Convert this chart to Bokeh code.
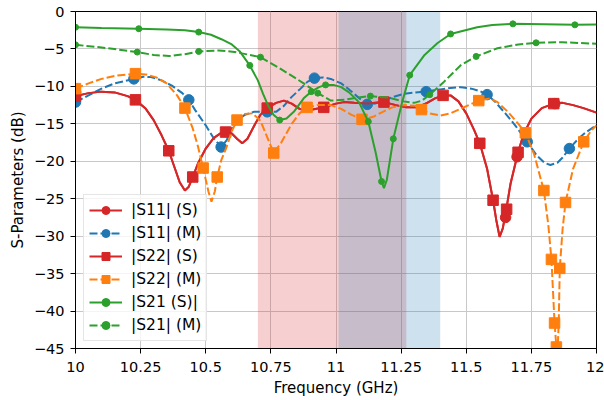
from bokeh.plotting import figure
from bokeh.models import (Range1d, FixedTicker, CustomJSTickFormatter, BoxAnnotation,
                          Legend, LegendItem)
from bokeh.embed import file_html
from bokeh.resources import INLINE

# ---------------- data ----------------
# Shaded bands (GHz)
band_red = (10.70, 11.27)
band_blue = (11.01, 11.40)

# |S11| (S) and |S22| (S): the two simulated reflection traces coincide
f_sim_refl = [10.00, 10.05, 10.10, 10.15, 10.20, 10.23, 10.27, 10.30, 10.33, 10.358, 10.38, 10.40,
              10.42, 10.435, 10.45, 10.47, 10.50, 10.53, 10.555, 10.58, 10.60, 10.62, 10.64, 10.66,
              10.69, 10.71, 10.736, 10.77, 10.80, 10.83, 10.86, 10.88, 10.91, 10.953, 11.00, 11.03,
              11.07, 11.12, 11.184, 11.23, 11.27, 11.31, 11.35, 11.38, 11.411, 11.44, 11.47, 11.50,
              11.53, 11.552, 11.58, 11.603, 11.615, 11.628, 11.64, 11.651, 11.67, 11.699, 11.72,
              11.75, 11.79, 11.836, 11.87, 11.91, 11.95, 12.00]
s_sim_refl = [-11.3, -10.9, -10.7, -10.8, -11.3, -11.8, -13.0, -14.5, -16.5, -18.6, -20.8, -22.8,
              -23.9, -23.4, -22.1, -20.3, -18.3, -16.9, -16.3, -16.1, -16.3, -17.0, -17.6, -17.0,
              -15.0, -13.8, -12.9, -12.2, -11.9, -12.3, -13.0, -13.2, -13.1, -12.8, -12.3, -12.1,
              -12.2, -12.3, -12.1, -12.5, -12.8, -12.8, -12.2, -11.6, -11.2, -11.2, -12.0, -13.6,
              -15.8, -17.6, -21.0, -25.2, -27.8, -30.1, -29.0, -27.0, -23.0, -18.8, -16.4,
              -14.3, -12.9, -12.3, -12.2, -12.5, -12.9, -13.5]
s11_sim_mk_f = [10.00, 11.651, 11.695, 11.84]
s11_sim_mk_v = [-11.3, -27.5, -19.4, -12.3]
s22_sim_mk_f = [10.00, 10.23, 10.358, 10.45, 10.576, 10.736, 10.953, 11.184, 11.411, 11.552,
                11.603, 11.655, 11.699, 11.836]
s22_sim_mk_v = [-11.3, -11.8, -18.6, -22.1, -16.1, -12.9, -12.8, -12.1, -11.2, -17.6,
                -25.2, -26.4, -18.8, -12.3]

# |S11| (M)
f_s11_meas = [10.00, 10.05, 10.10, 10.15, 10.224, 10.26, 10.29, 10.33, 10.37, 10.41, 10.435, 10.46,
              10.50, 10.53, 10.559, 10.58, 10.60, 10.62, 10.65, 10.684, 10.736, 10.77, 10.80, 10.83,
              10.864, 10.89, 10.917, 10.95, 10.98, 11.02, 11.05, 11.09, 11.12, 11.15, 11.19, 11.22,
              11.26, 11.305, 11.346, 11.40, 11.44, 11.48, 11.52, 11.55, 11.58, 11.612, 11.65, 11.69,
              11.734, 11.77, 11.80, 11.823, 11.85, 11.87, 11.896, 11.93, 11.96, 12.00]
s11_meas = [-12.1, -11.2, -10.3, -9.6, -9.0, -8.7, -8.76, -9.2, -9.9, -10.9, -11.8, -13.2,
            -15.2, -16.9, -18.1, -17.2, -15.6, -14.5, -13.8, -13.4, -13.4, -13.4, -12.6, -11.4,
            -10.3, -9.4, -8.9, -8.8, -9.0, -9.6, -10.4, -11.6, -12.4, -12.3, -11.8, -11.4,
            -11.0, -10.8, -10.7, -10.4, -10.2, -10.1, -10.3, -10.6, -11.1, -12.1, -13.6, -15.3,
            -17.4, -19.2, -20.2, -20.5, -20.2, -19.5, -18.3, -17.0, -16.1, -15.2]
s11_meas_mk_f = [10.00, 10.224, 10.435, 10.559, 10.736, 10.917, 11.12, 11.346, 11.58, 11.734, 11.896]
s11_meas_mk_v = [-12.1, -9.0, -11.8, -18.1, -13.4, -8.9, -12.4, -10.7, -11.1, -17.4, -18.3]

# |S22| (M)
f_s22_meas = [10.00, 10.05, 10.10, 10.15, 10.23, 10.27, 10.31, 10.35, 10.39, 10.42, 10.45, 10.47,
              10.49, 10.51, 10.522, 10.535, 10.544, 10.56, 10.582, 10.60, 10.62, 10.65, 10.68, 10.71,
              10.735, 10.761, 10.79, 10.83, 10.86, 10.889, 10.93, 10.98, 11.02, 11.06, 11.10, 11.14,
              11.18, 11.216, 11.26, 11.305, 11.328, 11.36, 11.40, 11.44, 11.49, 11.548, 11.59, 11.62,
              11.66, 11.70, 11.727, 11.76, 11.798, 11.815, 11.827, 11.839, 11.846, 11.850, 11.855,
              11.859, 11.87, 11.881, 11.91, 11.951, 11.98, 12.00]
s22_meas = [-10.3, -9.6, -9.0, -8.6, -8.3, -8.4, -8.8, -9.6, -11.2, -12.9, -15.6, -18.0,
            -20.9, -24.0, -25.4, -24.0, -22.1, -19.8, -17.9, -16.0, -14.5, -13.7, -13.6, -14.6,
            -16.7, -18.9, -17.5, -15.0, -13.6, -12.8, -12.5, -12.5, -13.0, -13.8, -14.4, -14.1,
            -13.4, -12.8, -12.5, -12.6, -13.1, -13.6, -13.9, -13.6, -12.8, -11.9, -11.6, -12.1,
            -13.4, -15.0, -16.2, -19.0, -23.9, -28.5, -33.1, -41.6, -44.8, -46.0, -41.5,
            -34.3, -29.0, -25.5, -21.0, -17.4, -15.9, -15.2]
s22_meas_mk_f = [10.00, 10.23, 10.42, 10.49, 10.544, 10.62, 10.761, 10.889, 11.10, 11.328, 11.548,
                 11.727, 11.798, 11.827, 11.839, 11.846, 11.859, 11.881, 11.951]
s22_meas_mk_v = [-10.3, -8.3, -12.9, -20.9, -22.1, -14.5, -18.9, -12.8, -14.4, -13.1, -11.9,
                 -16.2, -23.9, -33.1, -41.6, -44.8, -34.3, -25.5, -17.4]

# |S21| (S)
f_s21_sim = [10.00, 10.10, 10.243, 10.35, 10.42, 10.473, 10.52, 10.56, 10.60, 10.63, 10.669, 10.70,
             10.72, 10.74, 10.76, 10.784, 10.81, 10.838, 10.876, 10.905, 10.935, 10.96, 10.99, 11.02,
             11.05, 11.088, 11.124, 11.152, 11.175, 11.184, 11.195, 11.22, 11.254, 11.283, 11.34,
             11.39, 11.44, 11.542, 11.60, 11.679, 11.80, 11.917, 12.00]
s21_sim = [-2.1, -2.2, -2.3, -2.4, -2.5, -2.75, -3.1, -3.7, -4.4, -5.3, -7.2, -9.2,
           -11.0, -12.6, -13.8, -14.5, -14.3, -13.4, -11.6, -10.7, -10.1, -9.8, -9.8, -10.1,
           -10.8, -12.1, -14.7, -18.8, -22.7, -23.6, -22.5, -17.0, -12.1, -8.5, -5.8,
           -4.2, -3.0, -2.1, -1.8, -1.65, -1.7, -1.78, -1.73]
s21_sim_mk_f = [10.00, 10.243, 10.473, 10.669, 10.784, 10.905, 10.96, 11.124, 11.175, 11.22,
                11.283, 11.44, 11.679, 11.917]
s21_sim_mk_v = [-2.1, -2.3, -2.75, -7.2, -14.5, -10.7, -9.8, -14.7, -22.7, -17.0,
                -8.5, -3.0, -1.65, -1.78]

# |S21| (M)
f_s21_meas = [10.00, 10.10, 10.237, 10.30, 10.36, 10.42, 10.473, 10.55, 10.61, 10.67, 10.71, 10.78,
              10.84, 10.876, 10.93, 10.98, 11.03, 11.08, 11.132, 11.20, 11.26, 11.30, 11.33, 11.36,
              11.414, 11.478, 11.538, 11.62, 11.70, 11.768, 11.868, 12.00]
s21_meas = [-4.45, -4.8, -5.42, -5.8, -5.95, -5.7, -5.33, -5.2, -5.4, -5.8, -6.1, -7.5,
            -8.8, -9.6, -10.9, -11.9, -11.8, -11.5, -11.3, -11.5, -12.0, -12.2, -11.9, -11.1,
            -9.4, -7.2, -6.0, -4.9, -4.4, -4.18, -4.1, -4.3]
s21_meas_mk_f = [10.00, 10.237, 10.473, 10.71, 10.93, 11.132, 11.36, 11.538, 11.768]
s21_meas_mk_v = [-4.45, -5.42, -5.33, -6.1, -10.9, -11.3, -11.1, -6.0, -4.18]

x_ticks = [10.0, 10.25, 10.5, 10.75, 11.0, 11.25, 11.5, 11.75, 12.0]
x_tick_labels = ["10", "10.25", "10.5", "10.75", "11", "11.25", "11.5", "11.75", "12"]
y_ticks = [0, -5, -10, -15, -20, -25, -30, -35, -40, -45]
y_tick_labels = ["0", "\u22125", "\u221210", "\u221215", "\u221220", "\u221225", "\u221230",
                 "\u221235", "\u221240", "\u221245"]

# ---------------- styling ----------------
RED, BLUE, ORANGE, GREEN = "#d62728", "#1f77b4", "#ff7f0e", "#2ca02c"
FONT = "DejaVu Sans"
LW = 2
DASH = "8 3"

p = figure(width=604, height=400, output_backend="svg", toolbar_location=None,
           x_range=Range1d(10, 12), y_range=Range1d(-45, 0),
           min_border_left=75, min_border_right=8, min_border_top=11, min_border_bottom=52)
p.background_fill_color = "white"
p.border_fill_color = "white"
p.outline_line_color = "black"
p.outline_line_width = 1
p.outline_line_alpha = 1

fmt_code = "const i = tv.findIndex(t => Math.abs(t - tick) < 1e-9); return i >= 0 ? tl[i] : '';"
p.xaxis.ticker = FixedTicker(ticks=x_ticks)
p.yaxis.ticker = FixedTicker(ticks=y_ticks)
p.xaxis.formatter = CustomJSTickFormatter(args=dict(tv=x_ticks, tl=x_tick_labels), code=fmt_code)
p.yaxis.formatter = CustomJSTickFormatter(args=dict(tv=y_ticks, tl=y_tick_labels), code=fmt_code)

for ax in (p.xaxis, p.yaxis):
    ax.axis_line_color = "black"
    ax.axis_line_width = 1
    ax.major_tick_line_color = "black"
    ax.major_tick_in = 0
    ax.major_tick_out = 5
    ax.minor_tick_line_color = None
    ax.major_label_text_font = FONT
    ax.major_label_text_font_size = "14.5px"
    ax.major_label_text_color = "black"
    ax.axis_label_text_font = FONT
    ax.axis_label_text_font_size = "15px"
    ax.axis_label_text_font_style = "normal"
    ax.axis_label_text_color = "black"

p.xaxis.axis_label = "Frequency (GHz)"
p.yaxis.axis_label = "S-Parameters (dB)"
p.xaxis.major_label_standoff = 8
p.xaxis.axis_label_standoff = 4
p.yaxis.major_label_standoff = 6
p.yaxis.axis_label_standoff = 4

p.grid.grid_line_color = "#c8c8c8"
p.grid.grid_line_width = 1

p.add_layout(BoxAnnotation(left=band_red[0], right=band_red[1], fill_color=RED, fill_alpha=0.22,
                           line_color=None, level="underlay"))
p.add_layout(BoxAnnotation(left=band_blue[0], right=band_blue[1], fill_color=BLUE, fill_alpha=0.22,
                           line_color=None, level="underlay"))

# |S11| (S)
l1 = p.line(f_sim_refl, s_sim_refl, line_color=RED, line_width=LW)
m1 = p.scatter(s11_sim_mk_f, s11_sim_mk_v, marker="circle", size=10.5, fill_color=RED, line_color=RED)
# |S11| (M)
l2 = p.line(f_s11_meas, s11_meas, line_color=BLUE, line_width=LW, line_dash=DASH)
m2 = p.scatter(s11_meas_mk_f, s11_meas_mk_v, marker="circle", size=10.5, fill_color=BLUE, line_color=BLUE)
# |S22| (S)
l3 = p.line(f_sim_refl, s_sim_refl, line_color=RED, line_width=LW)
m3 = p.scatter(s22_sim_mk_f, s22_sim_mk_v, marker="square", size=10.5, fill_color=RED, line_color=RED)
# |S22| (M)
l4 = p.line(f_s22_meas, s22_meas, line_color=ORANGE, line_width=LW, line_dash=DASH)
m4 = p.scatter(s22_meas_mk_f, s22_meas_mk_v, marker="square", size=10.5, fill_color=ORANGE, line_color=ORANGE)
# |S21| (S)
l5 = p.line(f_s21_sim, s21_sim, line_color=GREEN, line_width=LW)
m5 = p.scatter(s21_sim_mk_f, s21_sim_mk_v, marker="circle", size=6, fill_color=GREEN, line_color=GREEN)
# |S21| (M)
l6 = p.line(f_s21_meas, s21_meas, line_color=GREEN, line_width=LW, line_dash=DASH)
m6 = p.scatter(s21_meas_mk_f, s21_meas_mk_v, marker="circle", size=6, fill_color=GREEN, line_color=GREEN)

legend = Legend(items=[
    LegendItem(label="|S11| (S)", renderers=[l1, m1]),
    LegendItem(label="|S11| (M)", renderers=[l2, m2]),
    LegendItem(label="|S22| (S)", renderers=[l3, m3]),
    LegendItem(label="|S22| (M)", renderers=[l4, m4]),
    LegendItem(label="|S21 (S)|", renderers=[l5, m5]),
    LegendItem(label="|S21| (M)", renderers=[l6, m6]),
], location=(8, 7))
legend.label_text_font = FONT
legend.label_text_font_size = "15.5px"
legend.label_text_color = "black"
legend.glyph_width = 33
legend.glyph_height = 20
legend.label_height = 20
legend.label_standoff = 9
legend.spacing = 3
legend.padding = 5
legend.margin = 0
legend.border_line_color = "#cccccc"
legend.border_line_width = 1
legend.background_fill_color = "white"
legend.background_fill_alpha = 0.8
p.add_layout(legend)

open("out.html", "w").write(file_html(p, INLINE))
